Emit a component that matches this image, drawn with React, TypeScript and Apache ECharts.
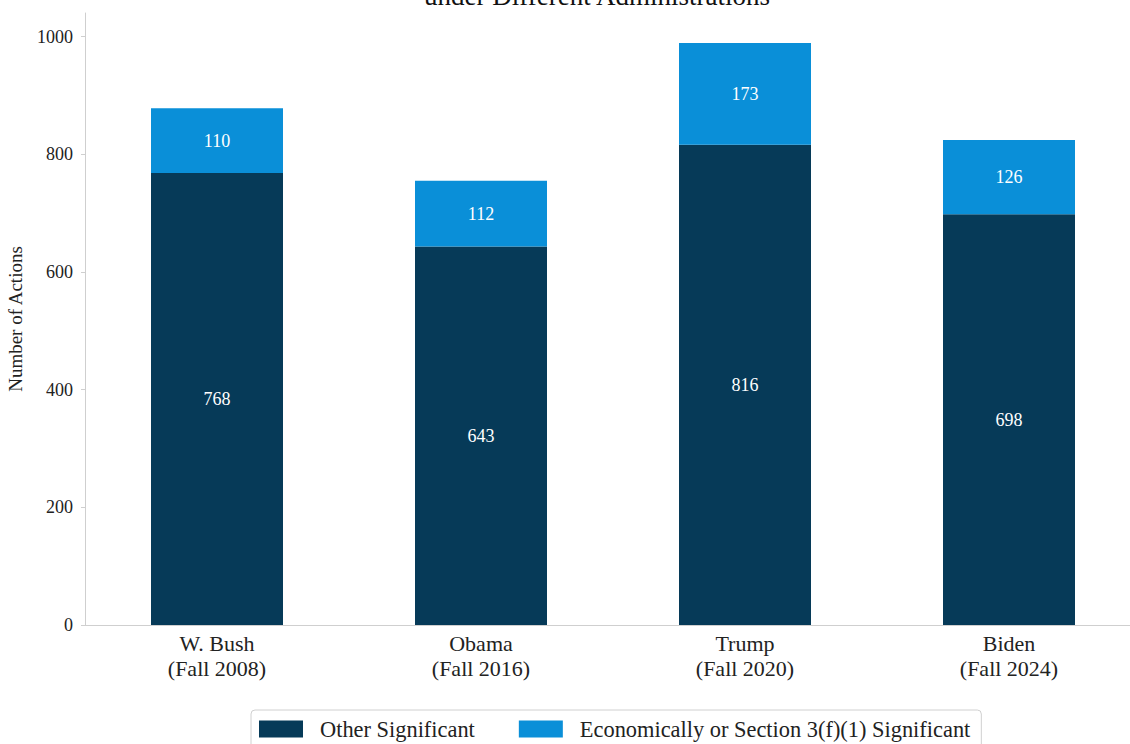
import React, { useEffect, useRef } from "react";
import * as echarts from "echarts";

const categories = ["W. Bush\n(Fall 2008)", "Obama\n(Fall 2016)", "Trump\n(Fall 2020)", "Biden\n(Fall 2024)"];
const otherSignificant = [768, 643, 816, 698];
const economicallySignificant = [110, 112, 173, 126];
const seriesNames = ["Other Significant", "Economically or Section 3(f)(1) Significant"];
const titleText = "under Different Administrations";
const yAxisName = "Number of Actions";

const FONT = "'Liberation Serif', 'Times New Roman', serif";

export default function App() {
  const ref = useRef<HTMLDivElement>(null);
  useEffect(() => {
    if (!ref.current) return;
    const chart = echarts.init(ref.current, null, { renderer: "svg" });
    chart.setOption({
      animation: false,
      backgroundColor: "#ffffff",
      textStyle: { fontFamily: FONT },
      graphic: [
        {
          type: "text",
          x: 597,
          y: 9,
          style: {
            text: titleText,
            font: `27px ${FONT}`,
            fill: "#111",
            align: "center",
            verticalAlign: "bottom",
          },
        },
      ],
      legend: {
        left: 251,
        top: 710,
        padding: [8, 11, 8, 8],
        itemWidth: 44,
        itemHeight: 17,
        itemGap: 44,
        borderColor: "#d0d0d0",
        borderWidth: 1,
        borderRadius: 4,
        icon: "rect",
        textStyle: { fontFamily: FONT, fontSize: 22.4, color: "#222", padding: [0, 0, 0, 12] },
        data: seriesNames,
      },
      grid: { left: 85, top: 13, right: -11, bottom: 119, containLabel: false, outerBoundsMode: "none" },
      xAxis: {
        type: "category",
        data: categories,
        axisLine: { lineStyle: { color: "#cfcfcf" } },
        axisTick: { alignWithLabel: true, length: 4, lineStyle: { color: "#cfcfcf" } },
        axisLabel: { fontFamily: FONT, fontSize: 22, color: "#222", lineHeight: 25, margin: 6 },
      },
      yAxis: {
        type: "value",
        min: 0,
        max: 1040,
        interval: 200,
        name: yAxisName,
        nameLocation: "middle",
        nameGap: 60,
        nameTextStyle: { fontFamily: FONT, fontSize: 19, color: "#222" },
        splitLine: { show: false },
        axisLine: { show: true, lineStyle: { color: "#cfcfcf" } },
        axisTick: { show: true, length: 4, lineStyle: { color: "#cfcfcf" } },
        axisLabel: {
          fontFamily: FONT,
          fontSize: 18,
          color: "#222",
          margin: 12,
          showMaxLabel: false,
          formatter: (v: number) => String(v),
        },
      },
      series: [
        {
          name: seriesNames[0],
          type: "bar",
          stack: "total",
          barWidth: "50%",
          data: otherSignificant,
          itemStyle: { color: "#063a58" },
          label: { show: true, position: "inside", color: "#fff", fontFamily: FONT, fontSize: 18 },
        },
        {
          name: seriesNames[1],
          type: "bar",
          stack: "total",
          barWidth: "50%",
          data: economicallySignificant,
          itemStyle: { color: "#0a8fd8" },
          label: { show: true, position: "inside", color: "#fff", fontFamily: FONT, fontSize: 18 },
        },
      ],
    });
    return () => chart.dispose();
  }, []);
  return <div ref={ref} style={{ width: 1130, height: 744, position: "absolute", left: 0, top: 0 }} />;
}
